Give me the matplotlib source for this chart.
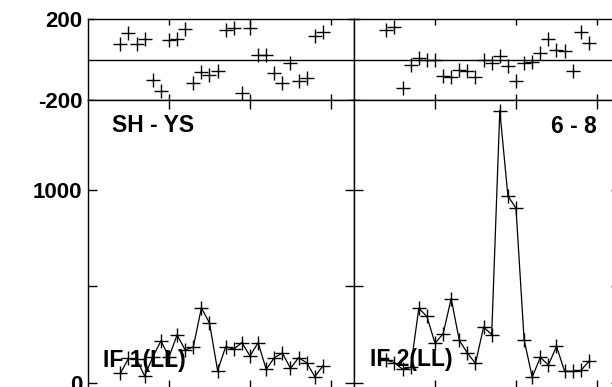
#librerias
import numpy as np
import matplotlib
matplotlib.use("Agg")
import matplotlib.pyplot as plt

plt.rcParams['font.family'] = ['Liberation Sans', 'DejaVu Sans']
plt.rcParams['font.weight'] = 'bold'

# canales (eje x) comunes a los dos paneles
canales = list(range(4, 30))

# panel izquierdo: SH - YS, IF 1(LL)
resid_izq = [77, 129, 77, 103, -101, -154, 96, 103, 149, -114, -60, -76, -57,
             146, 157, -167, 154, 22, 22, -68, -118, -16, -106, -90, 116, 136]
ampl_izq = [50, 127, 122, 36, 135, 218, 135, 249, 171, 187, 389, 311, 64,
            188, 176, 209, 140, 209, 71, 131, 155, 76, 131, 105, 33, 88]

# panel derecho: 6 - 8, IF 2(LL)
resid_der = [146, 162, -143, -27, 5, 0, -2, -80, -85, -52, -57, -85, 0,
             -19, 17, -32, -106, -19, -14, 30, 100, 47, 42, -55, 137, 83]
ampl_der = [119, 105, 71, 81, 387, 345, 206, 255, 437, 221, 155, 102, 290,
            251, 1411, 969, 905, 225, 30, 133, 93, 190, 61, 60, 65, 112]

titulos = ["SH - YS", "6 - 8"]
etiquetas = ["IF 1(LL)", "IF 2(LL)"]

fig = plt.figure(figsize=(6.12, 3.87), dpi=100)

W, H = 612.0, 387.0
ancho = 266 / W
izquierdas = [88 / W, 354 / W]

for k in range(2):
    resid = [resid_izq, resid_der][k]
    ampl = [ampl_izq, ampl_der][k]

    # panel superior: residuos
    ax1 = fig.add_axes([izquierdas[k], 1 - 100 / H, ancho, 81 / H])
    ax1.plot(canales, resid, '+', color='black', markersize=10, markeredgewidth=1.0)
    ax1.axhline(0, color='black', linewidth=1.0)
    ax1.set_xlim(0, 32.84)
    ax1.set_ylim(-200, 200)
    ax1.set_xticks([10, 20, 30])
    ax1.set_yticks([-200, 200])
    ax1.tick_params(direction='in', top=True, right=True, length=4.5, width=1.0,
                    labelbottom=False, labelsize=16, pad=4)
    if k == 0:
        ax1.set_yticklabels(["-200", "200"])
    else:
        ax1.tick_params(labelleft=False)

    # panel inferior: amplitudes
    ax2 = fig.add_axes([izquierdas[k], 1 - 389 / H, ancho, 289 / H])
    ax2.plot(canales, ampl, '-', color='black', linewidth=0.9,
             marker='+', markersize=10, markeredgewidth=1.0)
    ax2.set_xlim(0, 32.84)
    ax2.set_ylim(-31, 1466)
    ax2.set_xticks([10, 20, 30])
    ax2.set_yticks([0, 500, 1000])
    ax2.tick_params(direction='in', top=True, right=True, length=6.5, width=1.0,
                    labelbottom=False, labelsize=16, pad=4)
    if k == 0:
        ax2.set_yticklabels(["0", "", "1000"])
        ax2.text(0.09, 0.889, titulos[k], transform=ax2.transAxes,
                 fontsize=16.5, fontweight='bold', ha='left', va='baseline', zorder=1)
        ax2.text(0.056, 0.076, etiquetas[k], transform=ax2.transAxes,
                 fontsize=16.5, fontweight='bold', ha='left', va='baseline', zorder=1)
    else:
        ax2.tick_params(labelleft=False)
        ax2.text(0.9135, 0.886, titulos[k], transform=ax2.transAxes,
                 fontsize=16.5, fontweight='bold', ha='right', va='baseline', zorder=1)
        ax2.text(0.06, 0.08, etiquetas[k], transform=ax2.transAxes,
                 fontsize=16.5, fontweight='bold', ha='left', va='baseline', zorder=1)

    for ax in (ax1, ax2):
        for s in ax.spines.values():
            s.set_linewidth(1.0)

fig.savefig("out.png", dpi=100)
